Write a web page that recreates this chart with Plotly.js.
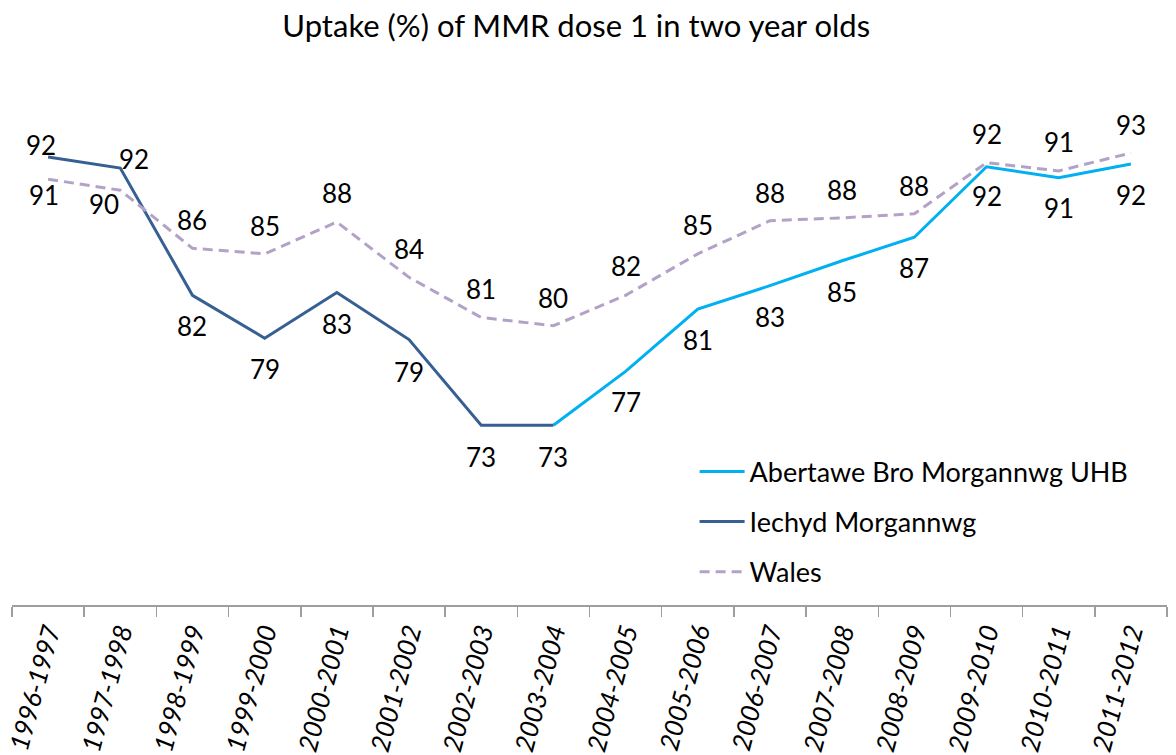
<!DOCTYPE html>
<html>
<head>
<meta charset="utf-8">
<script src="https://cdn.plot.ly/plotly-3.0.1.min.js"></script>
<style>
  html, body { margin: 0; padding: 0; background: #ffffff; }
  #chart { width: 1176px; height: 755px; }
</style>
</head>
<body>
<div id="chart"></div>
<script>
// ---- data ----
const categories = ['1996-1997','1997-1998','1998-1999','1999-2000','2000-2001','2001-2002','2002-2003','2003-2004',
                    '2004-2005','2005-2006','2006-2007','2007-2008','2008-2009','2009-2010','2010-2011','2011-2012'];
const abmValues    = [null, null, null, null, null, null, null, 73.0, 76.9, 81.4, 83.1, 84.9, 86.6, 91.7, 90.9, 91.9];
const iechydValues = [92.4, 91.6, 82.4, 79.3, 82.6, 79.2, 73.0, 73.0, null, null, null, null, null, null, null, null];
const walesValues  = [90.8, 90.0, 85.8, 85.4, 87.7, 83.7, 80.8, 80.2, 82.4, 85.4, 87.8, 88.0, 88.3, 92.0, 91.4, 92.7];
const seriesNames = ['Abertawe Bro Morgannwg UHB', 'Iechyd Morgannwg', 'Wales'];
const chartTitle = 'Uptake (%) of MMR dose 1 in two year olds';

// ---- styling ----
const FONT = 'Lato, "Open Sans", sans-serif';
const labelSize = 26;
const below = [0, 31], above = [0, -28];
// label offsets (dx, dy in px, dy positive = downward); null = no label
const abmLabelPos    = [null,null,null,null,null,null,null,null, below, below, below, below, below, [0,29], [0,30], below];
const iechydLabelPos = [[-7,-12],[14,-9], below, below, below, [0,32],[0,32],[0,32], null,null,null,null,null,null,null,null];
const walesLabelPos  = [[-4,16],[-16,14], above, above, [0,-29], above, above, above, [0,-29],[0,-29], above, above, above, [0,-29],[0,-29], above];

const traces = [
  { x: categories, y: abmValues, name: seriesNames[0], type: 'scatter', mode: 'lines',
    line: { color: '#00B0F0', width: 3 }, legendgroup: 'a', hoverinfo: 'skip' },
  { x: categories, y: iechydValues, name: seriesNames[1], type: 'scatter', mode: 'lines',
    line: { color: '#376092', width: 3 }, legendgroup: 'b', hoverinfo: 'skip' },
  { x: categories, y: walesValues, name: seriesNames[2], type: 'scatter', mode: 'lines',
    line: { color: '#B3A2C7', width: 3, dash: '10px,6px' }, legendgroup: 'c', hoverinfo: 'skip' }
];

const annotations = [];
function addLabels(values, pos) {
  values.forEach((v, i) => {
    if (v === null || pos[i] === null) return;
    annotations.push({
      x: categories[i], y: v, xref: 'x', yref: 'y',
      text: String(Math.round(v)), showarrow: false,
      xshift: pos[i][0], yshift: -pos[i][1],
      font: { family: FONT, size: labelSize, color: '#000000' }
    });
  });
}
addLabels(abmValues, abmLabelPos);
addLabels(iechydValues, iechydLabelPos);
addLabels(walesValues, walesLabelPos);

const layout = {
  width: 1176, height: 755,
  paper_bgcolor: '#ffffff', plot_bgcolor: '#ffffff',
  margin: { l: 12, r: 9, t: 52, b: 150 },
  title: { text: chartTitle, font: { family: FONT, size: 31, color: '#000000' },
           x: 0.49, xref: 'container', xanchor: 'center', y: 0.965, yref: 'container', yanchor: 'middle' },
  xaxis: {
    type: 'category', range: [-0.5, 15.5], fixedrange: true,
    showline: true, linecolor: '#9E9E9E', linewidth: 1.5,
    ticks: 'outside', ticklen: 10, tickcolor: '#9E9E9E', tickwidth: 1.5, tickson: 'boundaries',
    tickangle: -75, showgrid: false, zeroline: false,
    tickfont: { family: FONT, size: 26, color: '#000000', style: 'italic' },
    automargin: false
  },
  yaxis: {
    range: [60, 100], showticklabels: false, showgrid: false, zeroline: false, showline: false,
    ticks: '', fixedrange: true
  },
  showlegend: true,
  legend: {
    x: 0.591, y: 0.285, xanchor: 'left', yanchor: 'top', xref: 'paper', yref: 'paper',
    bgcolor: 'rgba(0,0,0,0)', tracegroupgap: 12, itemwidth: 45,
    font: { family: FONT, size: 27, color: '#000000' }
  },
  annotations: annotations
};

Plotly.newPlot('chart', traces, layout, { displayModeBar: false, staticPlot: true });
</script>
</body>
</html>
